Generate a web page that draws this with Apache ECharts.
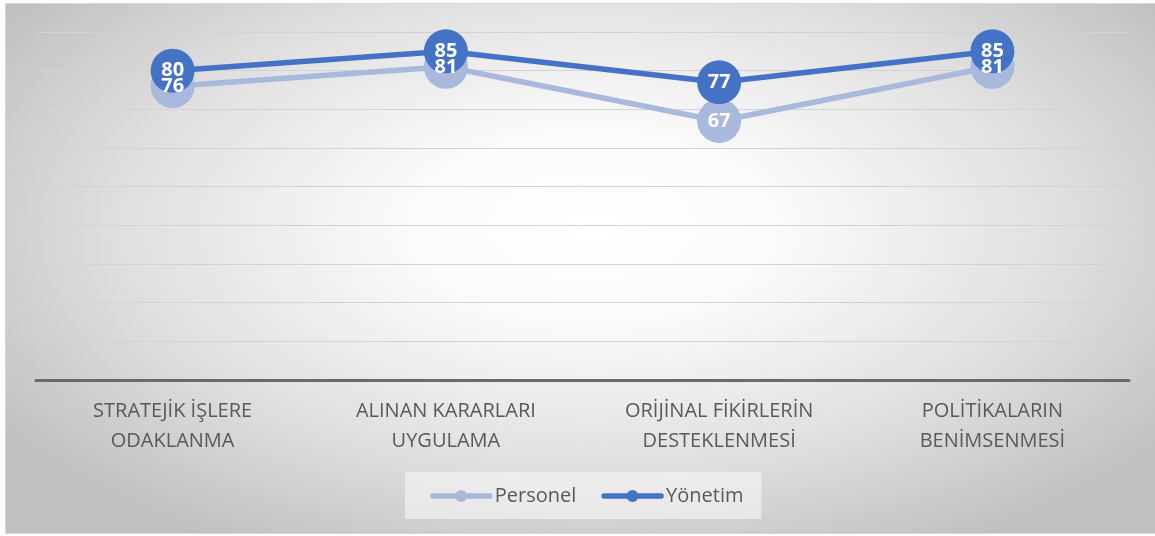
<!DOCTYPE html>
<html>
<head>
<meta charset="utf-8">
<script src="https://cdn.jsdelivr.net/npm/echarts@6/dist/echarts.min.js"></script>
<style>
  html, body { margin: 0; padding: 0; background: #fff; }
  #frame {
    position: absolute; left: 5px; top: 3px; width: 1150px; height: 529px;
    border-top: 1px solid #d6d6d6; border-left: 1px solid #d6d6d6; border-bottom: 1px solid #d6d6d6;
    background: radial-gradient(ellipse 62% 70% at 51% 42%, #ffffff 0%, #fbfbfb 25%, #e0e0e0 65%, #c0c0c0 100%);
  }
  #main { position: absolute; left: 0; top: 0; width: 1155px; height: 536px; }
</style>
</head>
<body>
<div id="frame"></div>
<div id="main"></div>
<script>
var categories = ['STRATEJİK İŞLERE\nODAKLANMA', 'ALINAN KARARLARI\nUYGULAMA', 'ORİJİNAL FİKİRLERİN\nDESTEKLENMESİ', 'POLİTİKALARIN\nBENİMSENMESİ'];
var personel = [76, 81, 67, 81];
var yonetim = [80, 85, 77, 85];

var chartDom = document.getElementById('main');
var myChart = echarts.init(chartDom);
var option;

var series = [
    {
        name: 'Personel',
        type: 'line',
        data: personel,
        symbol: 'circle',
        symbolSize: 44,
        lineStyle: { color: '#A9B8DD', width: 5.5 },
        itemStyle: { color: '#A9B8DD' },
        label: {
            show: true,
            position: 'inside',
            color: '#fff',
            fontFamily: 'Open Sans',
            fontWeight: 'bold',
            fontSize: 20
        }
    },
    {
        name: 'Yönetim',
        type: 'line',
        data: yonetim,
        symbol: 'circle',
        symbolSize: 44,
        lineStyle: { color: '#4472C4', width: 5.5 },
        itemStyle: { color: '#4472C4' },
        label: {
            show: true,
            position: 'inside',
            color: '#fff',
            fontFamily: 'Open Sans',
            fontWeight: 'bold',
            fontSize: 20
        }
    }
];

option = {
    backgroundColor: 'transparent',
    animation: false,
    grid: { left: 36, right: 26, top: 32, bottom: 156 },
    xAxis: {
        type: 'category',
        data: categories,
        axisLine: { lineStyle: { color: '#6a6a6a', width: 3 } },
        axisTick: { show: false },
        axisLabel: {
            color: '#595959',
            fontFamily: 'Open Sans',
            fontSize: 20,
            lineHeight: 30,
            margin: 16
        }
    },
    yAxis: {
        type: 'value',
        min: 0,
        max: 90,
        interval: 10,
        axisLabel: { show: false },
        axisLine: { show: false },
        axisTick: { show: false },
        splitLine: { lineStyle: { color: '#d3d3d3', width: 1 } }
    },
    legend: {
        data: ['Personel', 'Yönetim'],
        left: 405,
        top: 472,
        padding: [14, 18, 13, 25],
        itemGap: 25,
        itemWidth: 57,
        itemHeight: 15,
        backgroundColor: 'rgba(247,247,247,0.6)',
        lineStyle: { width: 5.5, cap: 'round' },
        textStyle: { color: '#595959', fontFamily: 'Open Sans', fontSize: 20 }
    },
    series: series
};

option && myChart.setOption(option);
</script>
</body>
</html>
